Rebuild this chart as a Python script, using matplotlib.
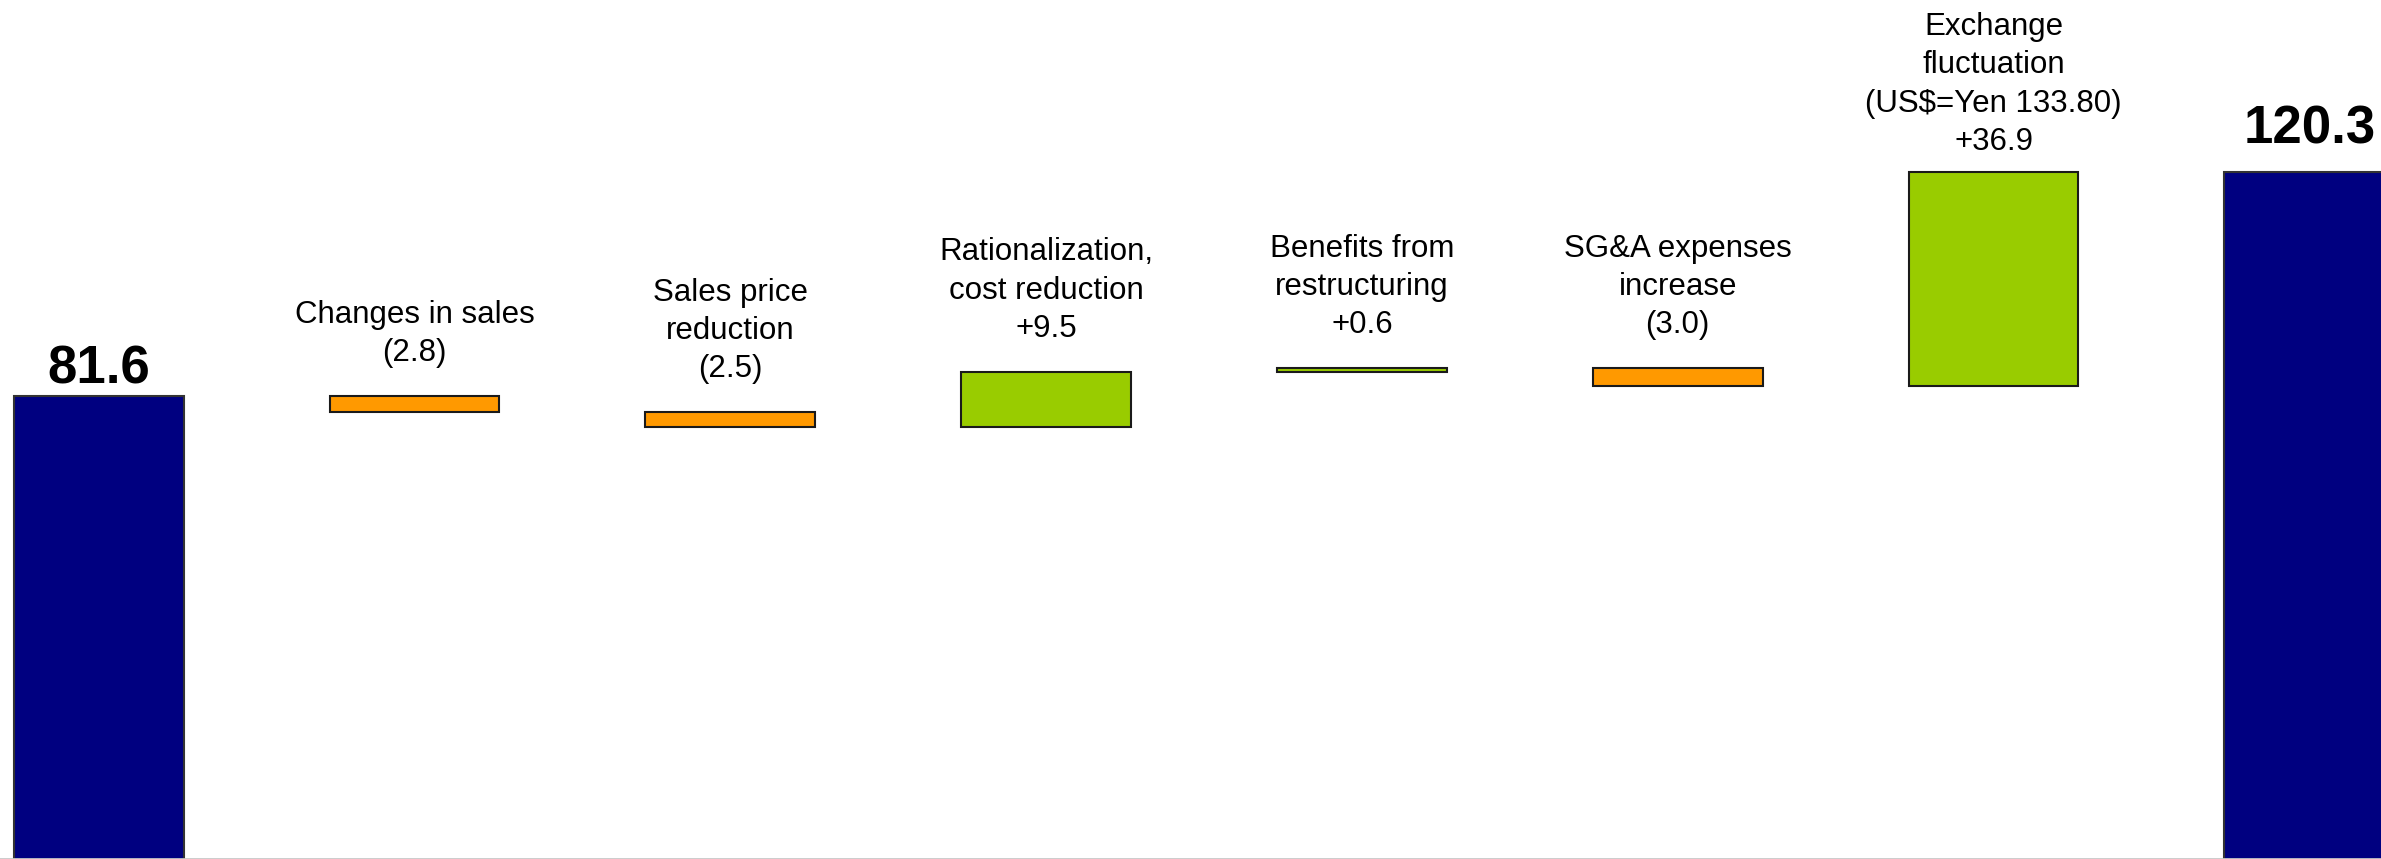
import matplotlib
matplotlib.use("Agg")
import matplotlib.pyplot as plt
import numpy as np

plt.rcParams['font.family'] = ['Liberation Sans', 'DejaVu Sans']

# operating income bridge (billions of yen)
start_value = 81.6
end_value = 120.3
step_names = ["Changes in sales",
              "Sales price\nreduction",
              "Rationalization,\ncost reduction",
              "Benefits from\nrestructuring",
              "SG&A expenses\nincrease",
              "Exchange\nfluctuation\n(US$=Yen 133.80)"]
step_values = [-2.8, -2.5, 9.5, 0.6, -3.0, 36.9]

navy = '#000080'
up_color = '#99CC00'
down_color = '#FF9900'

# format a change as +x.x or (x.x)
def fmtChange(v):
    if v < 0:
        return "({:.1f})".format(-v)
    return "+{:.1f}".format(v)

fig = plt.figure(figsize=(23.81, 8.59), dpi=100)
ax = fig.add_axes([0, 0, 1, 1])

width = 0.538
n = len(step_values)
xs = np.arange(n + 2)

# first and last totals
ax.bar(xs[0], start_value, width, color=navy, edgecolor='#333333', linewidth=1.5)
ax.bar(xs[-1], end_value, width, color=navy, edgecolor='#333333', linewidth=1.5)

# floating step bars
running = start_value
for i, v in enumerate(step_values):
    bottom = running if v >= 0 else running + v
    color = up_color if v >= 0 else down_color
    ax.bar(xs[i + 1], abs(v), width, bottom=bottom, color=color,
           edgecolor='#1a1a1a', linewidth=1.5)
    top = max(running, running + v)
    # the tall exchange label sits closer to its bar
    pad = 11 if i == n - 1 else 20
    ax.annotate(step_names[i] + "\n" + fmtChange(v), (xs[i + 1], top),
                xytext=(0, pad), textcoords='offset points',
                ha='center', va='bottom', fontsize=22.5, linespacing=1.36)
    running += v

# bold totals
ax.annotate("{:.1f}".format(start_value), (xs[0], start_value),
            xytext=(0, 9), textcoords='offset points',
            ha='center', va='baseline', fontsize=38, fontweight='bold')
ax.annotate("{:.1f}".format(end_value), (xs[-1], end_value),
            xytext=(0, 21), textcoords='offset points',
            ha='center', va='baseline', fontsize=38, fontweight='bold')

ax.set_xlim(-0.3125, 7.227)
ax.set_ylim(1.5, 150.1)
ax.set_xticks([])
ax.set_yticks([])
for side in ['top', 'left', 'right']:
    ax.spines[side].set_visible(False)
ax.spines['bottom'].set_color('#C8C8C8')
ax.spines['bottom'].set_linewidth(2)

fig.savefig('out.png', dpi=100)
